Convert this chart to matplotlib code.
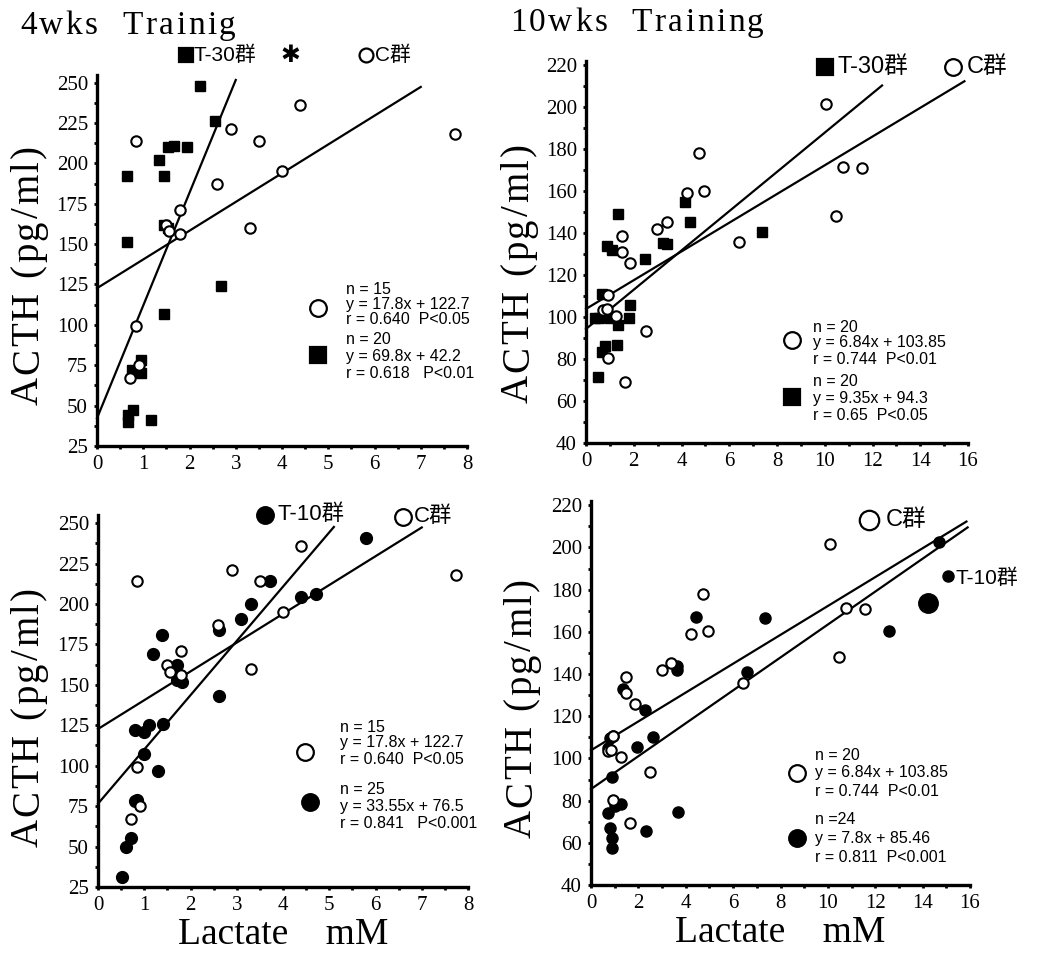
import numpy as np
import matplotlib.pyplot as plt
from matplotlib.ticker import MultipleLocator
from matplotlib import font_manager
from matplotlib.ft2font import FT2Font

W, H = 1038, 957

# ---- 4 weeks training -------------------------------------------------
# C group (n=15), shared by both 4-week panels
c4_x = [0.84, 4.38, 2.9, 3.5, 4.0, 2.6, 1.8, 1.5, 1.55, 3.3, 1.8, 0.85, 0.9, 0.72, 7.75]
c4_y = [214, 236, 221, 214, 195, 187, 171, 162, 158, 160, 156, 99, 75, 67, 218]

# T-30 group (n=20)
t30_4_x = [2.22, 2.55, 1.54, 1.66, 1.95, 1.34, 0.65, 1.45, 1.45, 1.54,
           0.65, 2.68, 1.45, 0.96, 0.96, 0.75, 0.78, 0.68, 0.68, 1.17]
t30_4_y = [248, 226, 210, 211, 210, 202, 192, 192, 162, 160,
           151, 124, 107, 78, 70, 72, 47, 44, 40, 41]

# T-10 group (n=25)
t10_4_x = [5.8, 3.71, 3.3, 3.1, 4.38, 4.71, 2.62, 1.38, 1.18, 1.71, 1.71, 1.81, 2.62,
           0.8, 1.0, 1.11, 1.4, 1.0, 1.3, 0.8, 0.71, 0.6, 0.51, 1.75, 0.85]
t10_4_y = [241, 214, 200, 191, 204, 206, 184, 181, 169, 162, 153, 152, 143,
           122, 121, 125, 126, 107, 97, 78, 55, 50, 31, 156, 79]

# ---- 10 weeks training ------------------------------------------------
c10_x = [10.07, 4.74, 10.77, 11.58, 4.24, 4.94, 10.46, 3.38, 2.98, 1.49,
         1.49, 1.84, 6.42, 0.93, 0.72, 0.86, 1.26, 2.51, 0.93, 1.63]
c10_y = [201.4, 178, 171.3, 170.8, 159.2, 160.2, 148.2, 145.4, 141.9, 138.7,
         130.8, 125.6, 135.6, 110.5, 103.3, 104, 100.6, 93.5, 80.3, 69.2]

t30_10_x = [4.14, 4.35, 1.35, 0.87, 1.07, 3.24, 3.38, 2.47, 7.39, 0.66,
            1.84, 0.38, 0.55, 1.0, 1.35, 1.8, 0.79, 1.28, 0.66, 0.49]
t30_10_y = [154.6, 145.1, 149, 133.8, 131.9, 135.4, 134.8, 127.6, 140.6, 110.8,
            105.7, 99.4, 99.4, 99.4, 96.2, 99.4, 86.2, 86.7, 83.5, 71.3]

t10_10_x = [14.7, 15.08, 4.43, 7.34, 12.57, 3.62, 3.62, 6.6, 1.36, 2.28, 0.92, 0.8,
            2.63, 1.93, 0.73, 0.87, 1.27, 1.0, 0.73, 3.66, 0.8, 2.32, 0.87, 0.87]
t10_10_y = [202.7, 186.6, 167.2, 166.7, 160.5, 141.9, 144, 141.1, 132.9, 122.9, 110.6, 109.5,
            110, 105.5, 104.8, 91, 78.4, 77.4, 74.3, 74.5, 67.2, 65.7, 62.4, 57.7]

# regression lines: (slope, intercept, x end)
fit_c4 = (17.8, 122.7, 7.0)
fit_t30_4 = (69.8, 42.2, 3.0)
fit_t10_4 = (33.55, 76.5, 5.1)
fit_c10 = (6.84, 103.85, 15.85)
fit_t30_10 = (9.35, 94.3, 12.4)
fit_t10_10 = (7.8, 85.46, 15.9)

SERIF = 'Liberation Serif'
SANS = ['Liberation Sans', 'Noto Sans CJK JP']

fig = plt.figure(figsize=(W / 100, H / 100), dpi=100)


def make_ax(x0, x1, y0, y1, xlim, ylim, xmaj, xmin, ymaj, ymin):
    # pixel box -> figure fraction
    ax = fig.add_axes([x0 / W, 1 - y0 / H, (x1 - x0) / W, (y0 - y1) / H])
    ax.set_xlim(*xlim)
    ax.set_ylim(*ylim)
    for s in ['top', 'right']:
        ax.spines[s].set_visible(False)
    for s in ['left', 'bottom']:
        ax.spines[s].set_linewidth(2.4)
    ax.xaxis.set_major_locator(MultipleLocator(xmaj))
    ax.xaxis.set_minor_locator(MultipleLocator(xmin))
    ax.yaxis.set_major_locator(MultipleLocator(ymaj))
    ax.yaxis.set_minor_locator(MultipleLocator(ymin))
    ax.tick_params(which='both', direction='out', length=2.5, width=2, pad=4,
                   labelsize=15)
    for lab in ax.get_xticklabels() + ax.get_yticklabels():
        lab.set_fontfamily(SERIF)
    return ax


def fit_line(ax, fit):
    a, b, xe = fit
    xs = np.array([0, xe])
    ax.plot(xs, a * xs + b, color='black', lw=1.6, clip_on=False, zorder=2)


sq = dict(marker='s', ls='none', color='black', ms=7, clip_on=False, zorder=3)
oc = dict(marker='o', ls='none', mfc='white', mec='black', mew=1.5, ms=7.5, clip_on=False, zorder=4)
fc = dict(marker='o', ls='none', color='black', ms=8.5, clip_on=False, zorder=3)

# top left
ax1 = make_ax(97, 467, 446, 74.5, (0, 8), (25, 255), 1, 0.5, 25, 12.5)
fit_line(ax1, fit_c4)
fit_line(ax1, fit_t30_4)
ax1.plot(t30_4_x, t30_4_y, **sq)
ax1.plot(c4_x, c4_y, **oc)

# top right
ax2 = make_ax(586, 968, 443, 60.8, (0, 16), (40, 222), 2, 1, 20, 10)
fit_line(ax2, fit_c10)
fit_line(ax2, fit_t30_10)
ax2.plot(t30_10_x, t30_10_y, **dict(sq, ms=7.5))
ax2.plot(c10_x, c10_y, **oc)

# bottom left
ax3 = make_ax(98, 468, 887, 515, (0, 8), (25, 255), 1, 0.5, 25, 12.5)
fit_line(ax3, fit_c4)
fit_line(ax3, fit_t10_4)
ax3.plot(c4_x, c4_y, **oc)
ax3.plot(t10_4_x, t10_4_y, **fc)
ax3.set_xlabel('Lactate    mM', fontsize=27, fontfamily=SERIF, labelpad=2)

# bottom right
ax4 = make_ax(591, 970, 885, 501, (0, 16), (40, 222), 2, 1, 20, 10)
fit_line(ax4, fit_c10)
fit_line(ax4, fit_t10_10)
ax4.plot(c10_x, c10_y, **oc)
ax4.plot(t10_10_x, t10_10_y, **dict(fc, ms=8))
ax4.set_xlabel('Lactate    mM', fontsize=27, fontfamily=SERIF, labelpad=2)

# overlay in pixel coordinates for titles, group keys and stats
ov = fig.add_axes([0, 0, 1, 1], zorder=10)
ov.set_xlim(0, W)
ov.set_ylim(H, 0)
ov.axis('off')
ov.patch.set_alpha(0)

_ft = FT2Font(font_manager.findfont(font_manager.FontProperties(family=SERIF)))


def spaced(x, y, s, size, track, vertical=False):
    # letter-spaced serif text, as in the scanned figure
    _ft.set_size(size, 100)
    pos = y if vertical else x
    for ch in s:
        adv = _ft.load_char(ord(ch)).linearHoriAdvance / 65536
        if vertical:
            ov.text(x, pos, ch, fontsize=size, fontfamily=SERIF, rotation=90,
                    rotation_mode='anchor', ha='left', va='baseline')
            pos -= adv + track
        else:
            ov.text(pos, y, ch, fontsize=size, fontfamily=SERIF, ha='left', va='baseline')
            pos += adv + track


spaced(20, 34, '4wks  Trainig', 24, 2.5)
spaced(510, 31, '10wks  Training', 24, 2.5)
for bx, by in [(38, 405), (528, 403), (38, 847), (531, 838)]:
    spaced(bx, by, 'ACTH (pg/ml)', 28, 2.5, vertical=True)


def key(x, y, marker, ms, filled, label, tx, size):
    ov.plot([x], [y], marker=marker, ms=ms, mfc='black' if filled else 'white',
            mec='black', mew=1.6, ls='none')
    ov.text(tx, y, label, fontsize=size, fontfamily=SANS, va='center')


key(186, 55, 's', 10, True, 'T-30群', 194, 15)
ov.text(290, 55, '✱', fontsize=17, fontfamily='DejaVu Sans', va='center', ha='center')
key(366, 55, 'o', 10, False, 'C群', 375, 15)

key(825, 67, 's', 12, True, 'T-30群', 838, 17)
key(953, 67, 'o', 12, False, 'C群', 967, 17)

key(265, 515, 'o', 12, True, 'T-10群', 278, 16)
key(403, 517, 'o', 12, False, 'C群', 414, 16)

key(869, 520, 'o', 14, False, 'C群', 886, 17)
ov.text(955, 578, 'T-10群', fontsize=15, fontfamily=SANS, va='center')
ov.plot([927.7], [602.7], marker='o', ms=14, color='black', ls='none')


def stats(mx, my, marker, filled, tx, ys, lines):
    ov.plot([mx], [my], marker=marker, ms=12, mfc='black' if filled else 'white',
            mec='black', mew=1.6, ls='none')
    for yy, s in zip(ys, lines):
        ov.text(tx, yy, s, fontsize=11.5, fontfamily='Liberation Sans', va='center')


stats(318, 308, 'o', False, 346, [290, 305, 320],
      ['n = 15', 'y = 17.8x + 122.7', 'r = 0.640  P<0.05'])
stats(318, 355, 's', True, 346, [340, 357, 374],
      ['n = 20', 'y = 69.8x + 42.2', 'r = 0.618   P<0.01'])

stats(792, 340, 'o', False, 813, [327, 342, 359],
      ['n = 20', 'y = 6.84x + 103.85', 'r = 0.744  P<0.01'])
stats(792, 397, 's', True, 813, [382, 398, 415],
      ['n = 20', 'y = 9.35x + 94.3', 'r = 0.65  P<0.05'])

stats(305, 752, 'o', False, 340, [727, 743, 760],
      ['n = 15', 'y = 17.8x + 122.7', 'r = 0.640  P<0.05'])
stats(310, 802, 'o', True, 340, [790, 806, 823],
      ['n = 25', 'y = 33.55x + 76.5', 'r = 0.841   P<0.001'])

stats(797, 773, 'o', False, 815, [755, 773, 792],
      ['n = 20', 'y = 6.84x + 103.85', 'r = 0.744  P<0.01'])
stats(797, 838, 'o', True, 815, [820, 838, 857],
      ['n =24', 'y = 7.8x + 85.46', 'r = 0.811  P<0.001'])

fig.savefig('out.png', dpi=100)
